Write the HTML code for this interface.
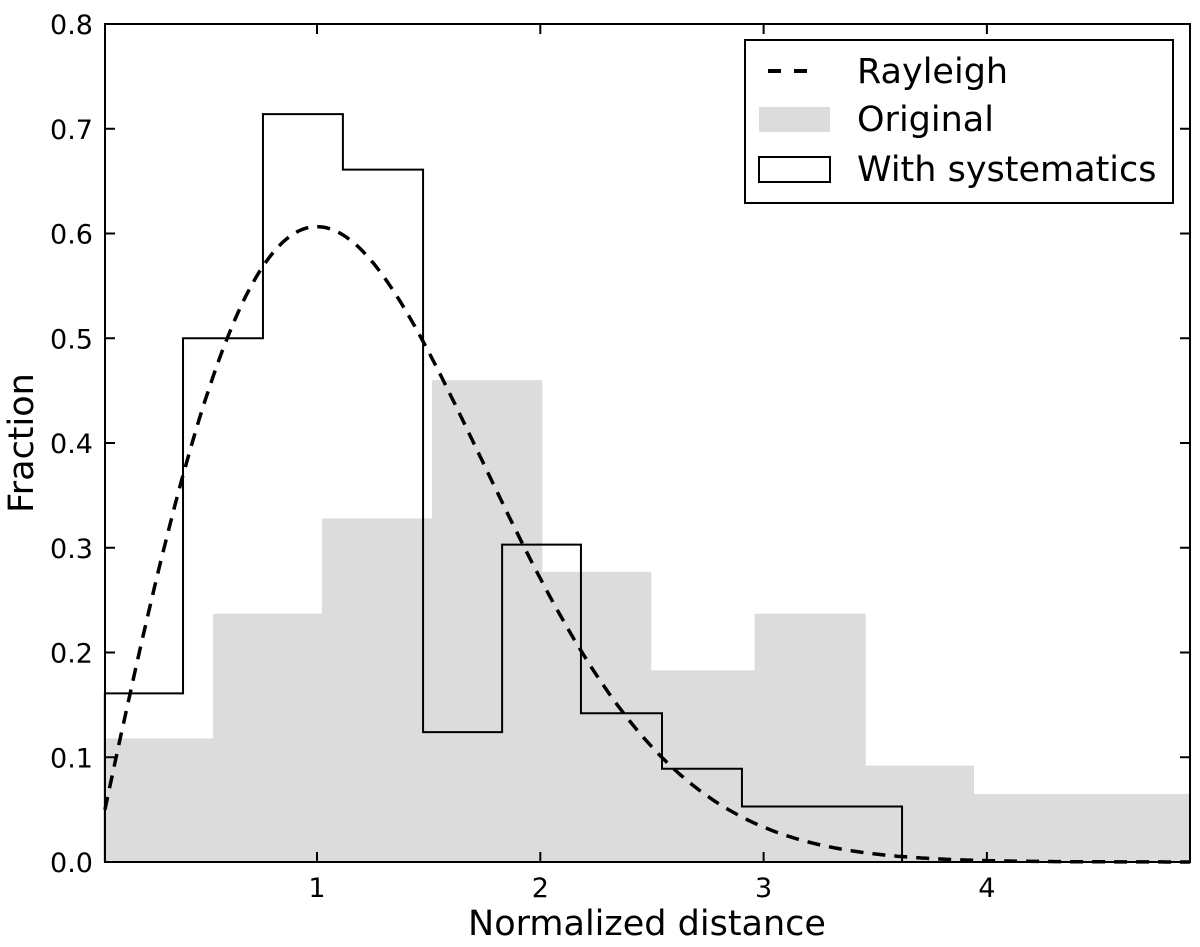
<!DOCTYPE html>
<html><head><meta charset="utf-8"><style>
body{margin:0;background:#fff;}
svg text{font-family:"DejaVu Sans","Liberation Sans",sans-serif;fill:#000;}
</style></head><body>
<svg id="chart" width="1200" height="942"></svg>
<script>
const origEdges=[0.05,0.534,1.022,1.515,2.007,2.495,2.96,3.455,3.94,4.91];
const origValues=[0.118,0.237,0.328,0.46,0.277,0.183,0.237,0.092,0.065];
const sysEdges=[0.05,0.40,0.758,1.116,1.475,1.829,2.182,2.545,2.903,3.262,3.62];
const sysValues=[0.161,0.5,0.714,0.661,0.124,0.303,0.142,0.089,0.053,0.053];
const rayleighSigma=[1];
const xTicks=[1,2,3,4];
const yTicks=[0.0,0.1,0.2,0.3,0.4,0.5,0.6,0.7,0.8];
const L=105,R=1190,T=24,B=862;
const x0=93.7,xs=223.3;
const X=v=>x0+v*xs, Y=v=>B-(v/0.8)*(B-T);
const NS="http://www.w3.org/2000/svg";
const svg=document.getElementById('chart');
function mk(t,a,p){const e=document.createElementNS(NS,t);for(const k in a)e.setAttribute(k,a[k]);(p||svg).appendChild(e);return e;}
const gO=mk('g',{});


origValues.forEach((v,i)=>{
 const r=mk('rect',{x:X(origEdges[i]),y:Y(v),width:X(origEdges[i+1])-X(origEdges[i])+0.5,height:B-Y(v),fill:'#dcdcdc'},gO);
 
 
});
let d=`M${X(sysEdges[0])},${B}`;
sysValues.forEach((v,i)=>{d+=` L${X(sysEdges[i])},${Y(v)} L${X(sysEdges[i+1])},${Y(v)}`;});
d+=` L${X(sysEdges[sysEdges.length-1])},${B}`;
const sp=mk('path',{d:d,fill:'none',stroke:'#000','stroke-width':2});


const s=rayleighSigma[0];let pts=[];
for(let k=0;k<=400;k++){const v=0.05+k*(4.91-0.05)/400;pts.push(X(v).toFixed(1)+','+Y(v/(s*s)*Math.exp(-v*v/(2*s*s))).toFixed(1));}
const rl=mk('polyline',{points:pts.join(' '),fill:'none',stroke:'#000','stroke-width':3.5,'stroke-dasharray':'13,9'});


const fr=mk('rect',{x:L,y:T,width:R-L,height:B-T,fill:'none',stroke:'#000','stroke-width':2});


xTicks.forEach(t=>{
 mk('line',{x1:X(t),x2:X(t),y1:B,y2:B-10,stroke:'#000','stroke-width':2});
 mk('line',{x1:X(t),x2:X(t),y1:T,y2:T+10,stroke:'#000','stroke-width':2});
 const tx=mk('text',{x:X(t),y:B+35,'text-anchor':'middle','font-size':27});tx.textContent=t;
 
 
});
yTicks.forEach(t=>{
 mk('line',{x1:L,x2:L+10,y1:Y(t),y2:Y(t),stroke:'#000','stroke-width':2});
 mk('line',{x1:R,x2:R-10,y1:Y(t),y2:Y(t),stroke:'#000','stroke-width':2});
 const tx=mk('text',{x:L-12,y:Y(t)+10,'text-anchor':'end','font-size':27});tx.textContent=t.toFixed(1);
 
 
});
</script>
<svg width="1200" height="942" style="position:absolute;left:0;top:0">
<text x="647" y="935" text-anchor="middle" font-size="35">Normalized distance</text>
<text transform="translate(33,443) rotate(-90)" text-anchor="middle" font-size="35">Fraction</text>
<g>
<rect x="745" y="40" width="428" height="163" fill="#fff" stroke="#000" stroke-width="2"/>
<line x1="768" y1="71" x2="815" y2="71" stroke="#000" stroke-width="4" stroke-dasharray="13,13"/>
<text x="857" y="83" font-size="35">Rayleigh</text>
<rect x="759" y="107" width="71" height="25" fill="#dcdcdc"/>
<text x="857" y="131" font-size="35">Original</text>
<rect x="759" y="157" width="71" height="25" fill="none" stroke="#000" stroke-width="2"/>
<text x="857" y="181" font-size="35">With systematics</text>
</g>
</svg>
</body></html>
